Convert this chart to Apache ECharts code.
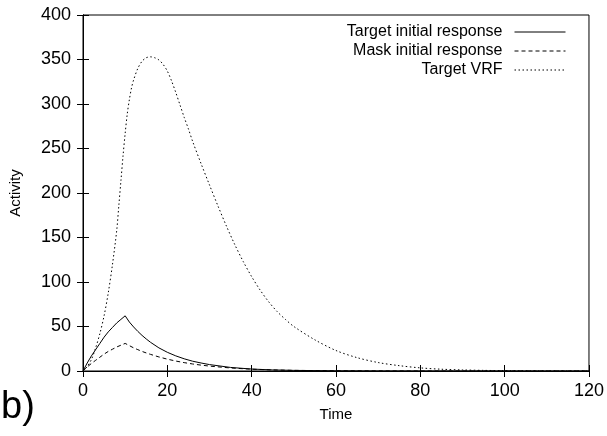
<!DOCTYPE html>
<html>
<head>
<meta charset="utf-8">
<script src="https://cdn.jsdelivr.net/npm/echarts@6/dist/echarts.min.js"></script>
<style>html,body{margin:0;padding:0;background:#fff}#c{width:607px;height:436px}</style>
</head>
<body>
<div id="c"></div>
<script>
// Target initial response (solid)
const targetT = [0,1,2,3,4,5,6,7,8,9,10,11,12,13,14,15,16,18,20,22,24,26,28,30,35,40,45,50,60,70,80,100,120];
const targetV = [0,9,17,24,31,38,44,49,54,58,62,55,49.5,44.5,40,36,32.3,26,21,17,13.7,11,9,7.2,4,2.2,1.2,0.7,0.2,0.05,0,0,0];
// Mask initial response (dashed)
const maskT = [0,1,2,3,4,5,6,7,8,9,10,11,12,13,14,15,16,18,20,22,24,26,28,30,35,40,45,50,60,70,80,100,120];
const maskV = [0,4.5,8.5,12,15.5,19,22,24.5,27,29,31,28.5,26,24,22,20.3,18.7,15.8,13.3,11.2,9.4,7.9,6.6,5.5,3.4,2,1.2,0.7,0.3,0.1,0,0,0];
// Target VRF (dotted)
const vrfT = [0,1,2,3,4,5,6,7,8,8.5,9,9.5,10,10.5,11,11.5,12,13,14,15,16,17,18,19,20,21,22,23,24,25,26,28,30,32,34,36,38,40,42,44,46,48,50,55,60,65,70,75,80,85,90,95,100,110,120];
const vrfV = [0,5,13,26,42,62,88,120,158,186,214,242,267,289,305,318,327,340,348,352,353,352,349.5,344.5,337,326,313,299,285,272,258,233,209,185.5,163,142,123,106,91,78,67,58,50,35,23,15,9.5,6,3.5,2,1.2,0.7,0.4,0.1,0];
const seriesNames = ['Target initial response','Mask initial response','Target VRF'];
const xTicks = [0,20,40,60,80,100,120];
const yTicks = [0,50,100,150,200,250,300,350,400];

const pairs = (t, v) => t.map((x, i) => [x, v[i]]);
const font = 'Liberation Sans, Arial, Helvetica, sans-serif';
const chart = echarts.init(document.getElementById('c'), null, {renderer: 'canvas'});
const axisCommon = {
  axisLine: {show: true, lineStyle: {color: '#000', width: 1}},
  axisTick: {show: true, inside: true, length: 6, lineStyle: {color: '#000'}},
  splitLine: {show: false}
};
chart.setOption({
  animation: false,
  backgroundColor: '#fff',
  grid: {left: 82, right: 18, top: 15, bottom: 65, show: true, borderColor: '#000', borderWidth: 1},
  legend: {
    orient: 'vertical', right: 36, top: 19, align: 'right',
    itemWidth: 51, itemHeight: 12, itemGap: 3,
    itemStyle: {opacity: 0},
    lineStyle: {width: 1},
    textStyle: {fontFamily: font, fontSize: 16, color: '#000', padding: [0, 7, 0, 0]},
    data: seriesNames
  },
  xAxis: [
    Object.assign({type: 'value', min: xTicks[0], max: xTicks[xTicks.length-1], interval: 20, position: 'bottom',
      name: 'Time', nameLocation: 'middle', nameGap: 36,
      nameTextStyle: {fontFamily: font, fontSize: 15, color: '#000'},
      axisLabel: {fontFamily: font, fontSize: 18, color: '#000', margin: 11}}, axisCommon),
    Object.assign({type: 'value', min: 0, max: 120, interval: 20, position: 'top', axisLabel: {show: false}}, axisCommon)
  ],
  yAxis: [
    Object.assign({type: 'value', min: yTicks[0], max: yTicks[yTicks.length-1], interval: 50, position: 'left',
      name: 'Activity', nameLocation: 'middle', nameGap: 60,
      nameTextStyle: {fontFamily: font, fontSize: 15, color: '#000'},
      axisLabel: {fontFamily: font, fontSize: 18, color: '#000', margin: 12}}, axisCommon),
    Object.assign({type: 'value', min: 0, max: 400, interval: 50, position: 'right', axisLabel: {show: false}}, axisCommon)
  ],
  graphic: [{type: 'text', left: 1, top: 389, style: {text: 'b)', font: '38px ' + font, fill: '#000'}}],
  series: [
    {name: seriesNames[0], type: 'line', data: pairs(targetT, targetV), symbol: 'none', smooth: false,
      lineStyle: {color: '#000', width: 1, type: 'solid'}, itemStyle: {color: '#000'}},
    {name: seriesNames[1], type: 'line', data: pairs(maskT, maskV), symbol: 'none',
      lineStyle: {color: '#000', width: 1, type: [4, 3]}, itemStyle: {color: '#000'}},
    {name: seriesNames[2], type: 'line', data: pairs(vrfT, vrfV), symbol: 'none', smooth: 0.3,
      lineStyle: {color: '#000', width: 1, type: [1.5, 2.5]}, itemStyle: {color: '#000'}}
  ]
});
</script>
</body>
</html>
